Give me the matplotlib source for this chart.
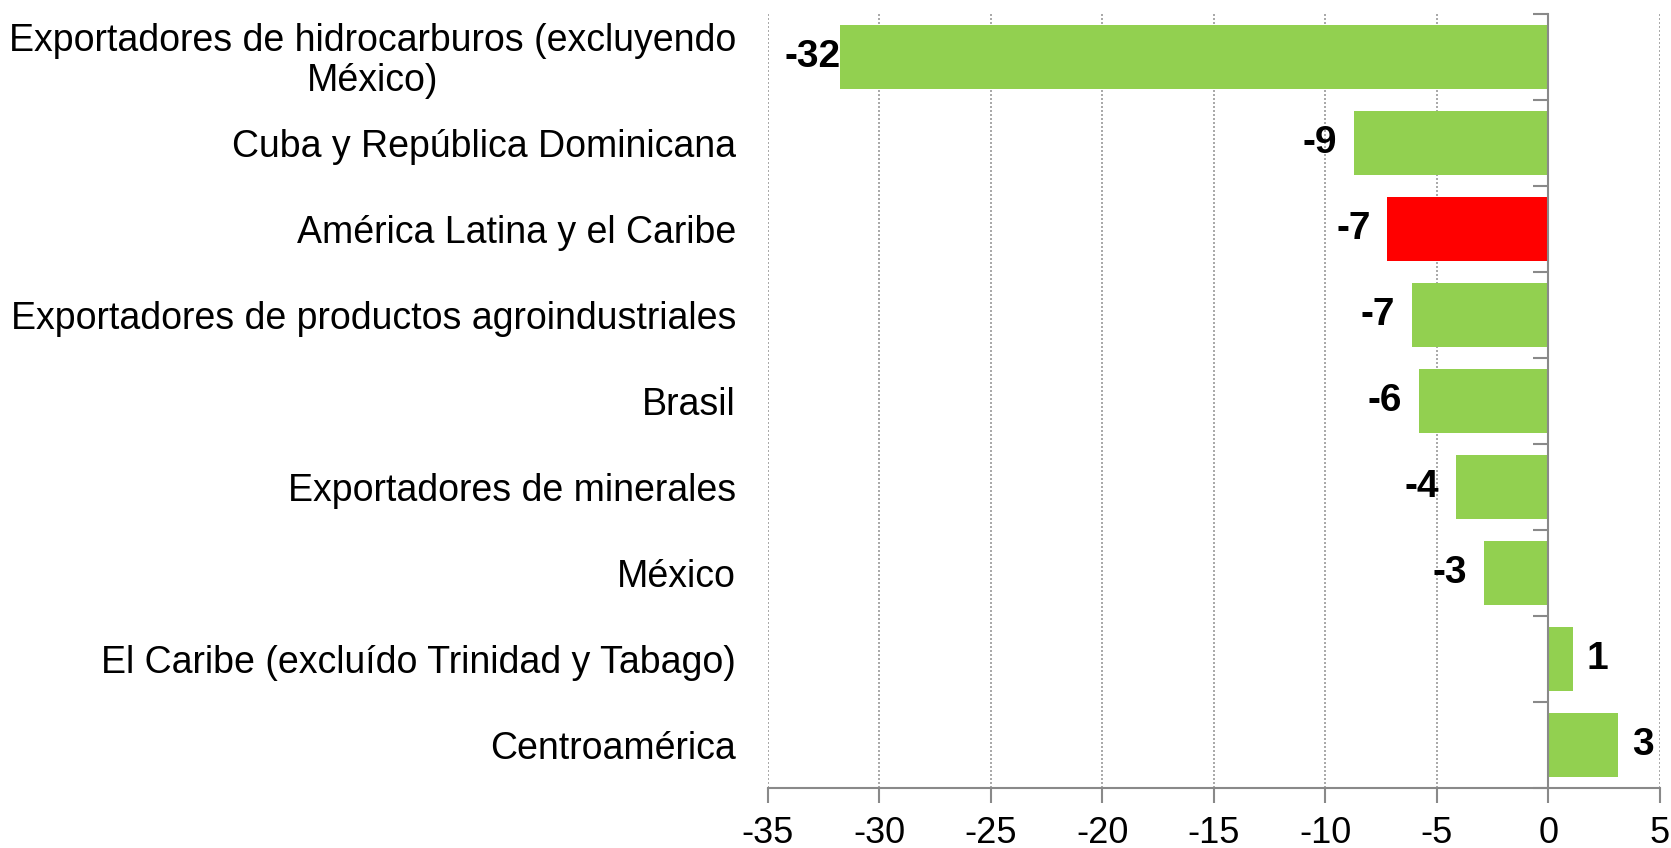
import numpy as np
import matplotlib.pyplot as plt
from matplotlib.ticker import FixedLocator
from matplotlib.transforms import blended_transform_factory

plt.rcParams['font.family'] = ['Liberation Sans', 'DejaVu Sans']
plt.rcParams['axes.unicode_minus'] = False

categories = [
    "Exportadores de hidrocarburos (excluyendo\nMéxico)",
    "Cuba y República Dominicana",
    "América Latina y el Caribe",
    "Exportadores de productos agroindustriales",
    "Brasil",
    "Exportadores de minerales",
    "México",
    "El Caribe (excluído Trinidad y Tabago)",
    "Centroamérica",
]
values = [-31.75, -8.73, -7.22, -6.14, -5.82, -4.14, -2.91, 1.08, 3.14]
labels = ["-32", "-9", "-7", "-7", "-6", "-4", "-3", "1", "3"]
highlight = "América Latina y el Caribe"

green = "#92D050"
red = "#FF0000"
gray = "#898989"

fig = plt.figure(figsize=(16.71, 8.48), dpi=100)
ax = fig.add_axes([0.4596, 0.0708, 0.5338, 0.9127])

ypos = np.arange(len(categories))
colors = [red if c == highlight else green for c in categories]
ax.barh(ypos, values, height=0.75, color=colors, zorder=3)

ax.set_xlim(-35, 5)
ax.set_ylim(len(categories) - 0.5, -0.5)
ax.set_xticks(np.arange(-35, 6, 5))
ax.set_yticks(ypos)
ax.set_yticklabels([])
ax.yaxis.set_minor_locator(FixedLocator(np.arange(-0.5, len(categories), 1)))

ax.tick_params(axis='y', which='major', left=False, right=False, length=0)
ax.tick_params(axis='y', which='minor', left=False, right=True, direction='in',
               length=11, width=1.5, color=gray)
ax.tick_params(axis='x', which='major', direction='out', length=11, width=1.5,
               color=gray, labelsize=26, pad=9)

# category names, right-aligned left of the plot, wrapped line centred
trans = blended_transform_factory(ax.transAxes, ax.transData)
for y, c in zip(ypos, categories):
    ax.annotate(c, (0, y), xycoords=trans, xytext=(-23, -3), textcoords='offset points',
                ha='right', va='center', ma='center', fontsize=27, linespacing=1.15,
                annotation_clip=False)

for s in ['top', 'left']:
    ax.spines[s].set_visible(False)
ax.spines['right'].set_position(('data', 0))
ax.spines['right'].set_color(gray)
ax.spines['right'].set_linewidth(1.5)
ax.spines['right'].set_zorder(4)
ax.spines['bottom'].set_color(gray)
ax.spines['bottom'].set_linewidth(1.5)

ax.grid(axis='x', linestyle=(0, (1.2, 1.2)), color='#9a9a9a', linewidth=1.2, zorder=0)
ax.grid(axis='y', visible=False)

for y, v, t in zip(ypos, values, labels):
    if v < 0:
        off = 0 if v < -30 else -12
        ax.annotate(t, (v, y), xytext=(off, 0), textcoords='offset points',
                    ha='right', va='center', fontsize=28, fontweight='bold', zorder=5)
    else:
        ax.annotate(t, (v, y), xytext=(10, 0), textcoords='offset points',
                    ha='left', va='center', fontsize=28, fontweight='bold', zorder=5)

fig.savefig("out.png", dpi=100)
